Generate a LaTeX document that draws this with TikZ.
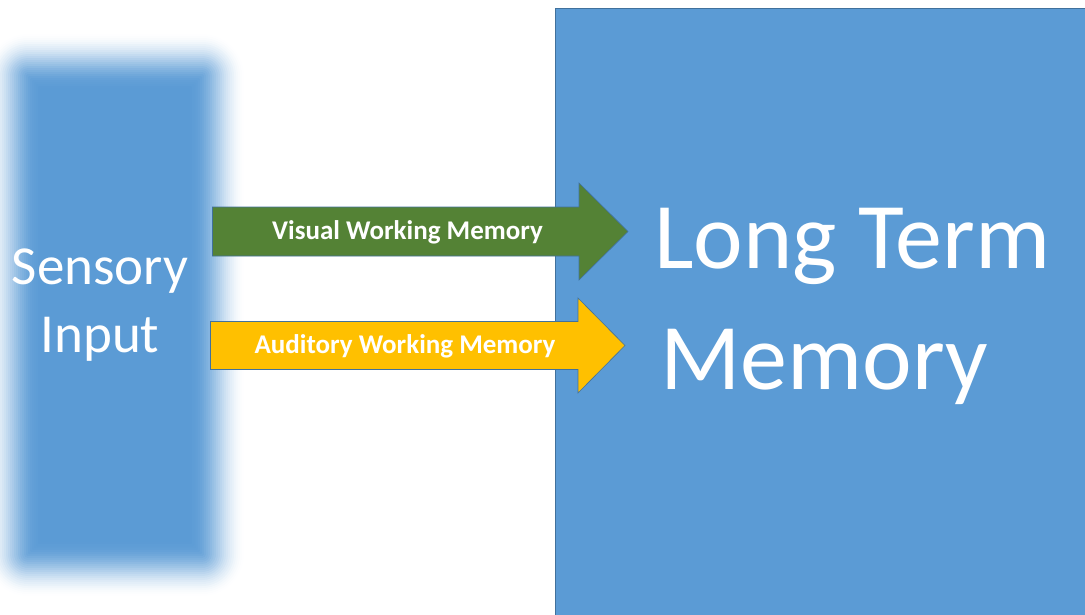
\documentclass[tikz,border=0pt]{standalone}
\usepackage{fontspec}
\setmainfont{Carlito}
\definecolor{memblue}{HTML}{5B9BD5}
\definecolor{edgeblue}{HTML}{41719C}
\definecolor{visgreen}{HTML}{548235}
\definecolor{audorange}{HTML}{FFC000}
\tikzset{
  bigtext/.style={text=white, inner sep=0pt, font=\fontsize{94}{120}\selectfont},
  sensetext/.style={text=white, inner sep=0pt, font=\fontsize{55}{70}\selectfont},
  arrowtext/.style={text=white, inner sep=0pt, font=\bfseries\fontsize{27}{32}\selectfont},
  blockarrow/.style={draw=edgeblue, line width=0.6pt, line join=miter},
  ltmbox/.style={fill=memblue, draw=edgeblue, line width=0.8pt, inner sep=0pt, outer sep=0pt}
}
\begin{document}
\begin{tikzpicture}[x=1pt,y=-1pt]
\useasboundingbox (0,0) rectangle (1085,614);
\clip (0,0) rectangle (1085,614);

% soft-edged sensory input block: solid core plus fading rings
\def\fadew{28}
\fill[memblue, rounded corners=1pt] ({12+\fadew},{60+\fadew}) rectangle ({218-\fadew},{570-\fadew});
\foreach \k in {1,...,28}{
  \pgfmathsetmacro\tk{-\fadew+2*\k}
  \pgfmathsetmacro\gk{0.5*(1-sin(90*(\tk-1)/\fadew))}
  \pgfmathsetmacro\gn{ifthenelse(\k==28,0,0.5*(1-sin(90*min(\tk+1,\fadew)/\fadew)))}
  \pgfmathsetmacro\ak{1-(1-\gk)/(1-\gn)}
  \pgfmathsetmacro\rk{max(16+\tk,1)}
  \fill[memblue, fill opacity=\ak, rounded corners=\rk pt]
    ({12-\tk},{60-\tk}) rectangle ({218+\tk},{570+\tk});
}
\node[minimum width=206pt, minimum height=510pt, inner sep=0pt] (sensory) at (115,315) {};
\node[sensetext, anchor=base] (sensA) at (100,284) {Sensory};
\node[sensetext, anchor=base] (sensB) at (100,352) {Input};

% long term memory block
\node[ltmbox, anchor=north west, minimum width=560pt, minimum height=640pt] (ltm) at (555,8) {};
\node[bigtext, anchor=base west] (ltmA) at (654,268) {Long Term};
\node[bigtext, anchor=base west] (ltmB) at (660,389) {Memory};

% visual working memory arrow
\coordinate (vtail) at (212.5,231.5);
\coordinate (vtip) at (628,231.5);
\draw[blockarrow, fill=visgreen]
  (vtail) ++(0,-24.5) -- (579,207) -- (579,183) -- (vtip)
  -- (579,280) -- (579,256) -- ([yshift=-24.5pt]vtail) -- cycle;
\node[arrowtext, anchor=base] (vlabel) at (407.5,239) {Visual Working Memory};

% auditory working memory arrow
\coordinate (atail) at (210.5,345.5);
\coordinate (atip) at (625,345.5);
\draw[blockarrow, fill=audorange]
  (atail) ++(0,-24) -- (578,321.5) -- (578,298) -- (atip)
  -- (578,393) -- (578,369.5) -- ([yshift=-24pt]atail) -- cycle;
\node[arrowtext, anchor=base] (alabel) at (405,353) {Auditory Working Memory};
\end{tikzpicture}
\end{document}
